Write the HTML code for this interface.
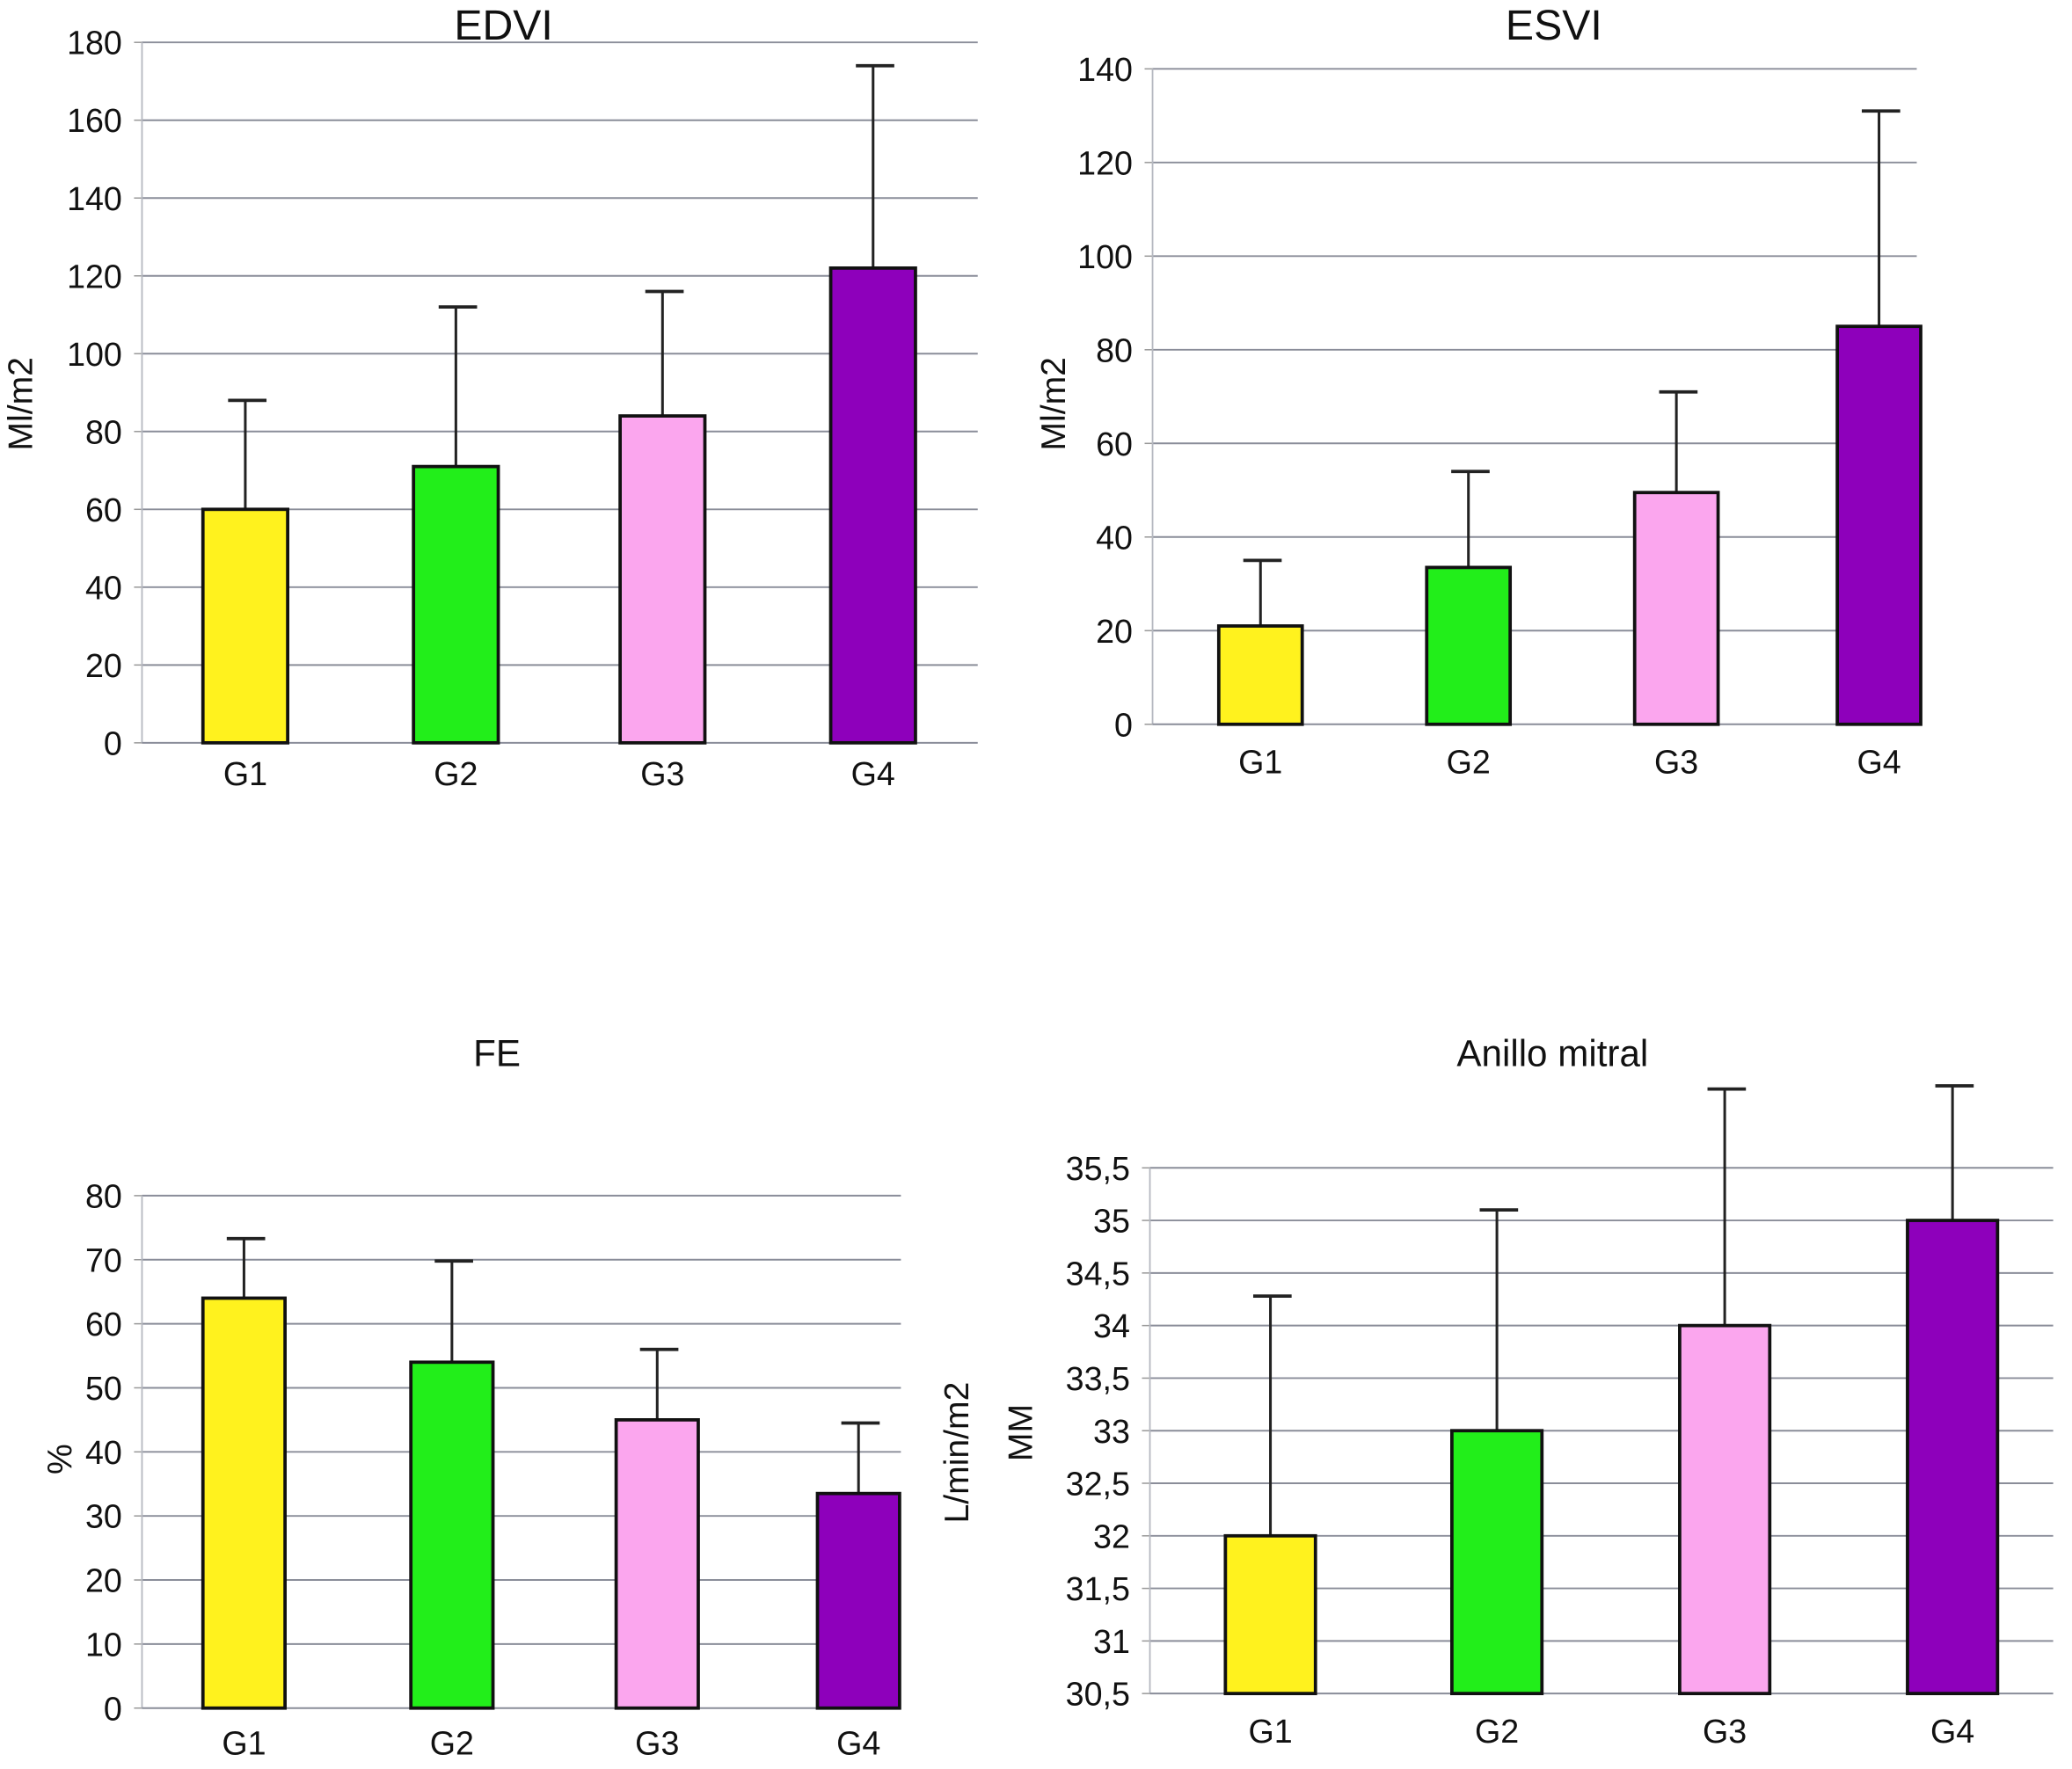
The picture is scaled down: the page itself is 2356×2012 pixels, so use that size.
<!DOCTYPE html>
<html><head><meta charset="utf-8"><style>
html,body{margin:0;padding:0;background:#fff;}
svg{display:block;font-family:"Liberation Sans",Arial,sans-serif;}
</style></head><body>
<svg id="chart" width="2356" height="2012" viewBox="0 0 1564 1336" xmlns="http://www.w3.org/2000/svg"></svg>
<script>
const groups = ["G1","G2","G3","G4"];
const colors = ["#fff21e","#22ee1a","#fba6ee","#8e00bb"];
const edviValues = [60, 71, 84, 122];
const edviErrors = [88, 112, 116, 174];
const edviTicks = [0,20,40,60,80,100,120,140,160,180];
const esviValues = [21, 33.5, 49.5, 85];
const esviErrors = [35, 54, 71, 131];
const esviTicks = [0,20,40,60,80,100,120,140];
const feValues = [64, 54, 45, 33.5];
const feErrors = [73.3, 69.8, 56, 44.5];
const feTicks = [0,10,20,30,40,50,60,70,80];
const mitralValues = [32, 33, 34, 35];
const mitralErrors = [34.28, 35.1, 36.25, 36.28];
const mitralTicks = [30.5,31,31.5,32,32.5,33,33.5,34,34.5,35,35.5];
const mitralTickLabels = ["30,5","31","31,5","32","32,5","33","33,5","34","34,5","35","35,5"];

const NS="http://www.w3.org/2000/svg";
const svg=document.getElementById('chart');
function mk(tag,attrs,parent){const e=document.createElementNS(NS,tag);for(const k in attrs)e.setAttribute(k,attrs[k]);(parent||svg).appendChild(e);return e;}

function panel(p){
  const g=mk('g',{});
  
  
  const y=v=>p.y0-(v-p.vmin)/(p.vmax-p.vmin)*(p.y0-p.ytop);
  // gridlines + tick labels
  p.ticks.forEach((t,i)=>{
    const yy=y(t);
    if(i>0){const l=mk('line',{x1:p.ax,x2:p.gx,y1:yy,y2:yy,stroke:'#8a8d99','stroke-width':1.3},g);
      
      }
    const tk=mk('line',{x1:p.ax-6,x2:p.ax,y1:yy,y2:yy,stroke:'#999','stroke-width':1},g);
    
    
    const tx=mk('text',{x:p.ax-15,y:yy+9,'text-anchor':'end','font-size':25,fill:'#111'},g);
    tx.textContent=p.tickLabels?p.tickLabels[i]:String(t);
    
    
  });
  const ax=mk('line',{x1:p.ax,x2:p.ax,y1:p.ytop,y2:p.y0,stroke:'#b5b8c0','stroke-width':1.2},g);
  
  
  const xa=mk('line',{x1:p.ax,x2:p.gx,y1:p.y0,y2:p.y0,stroke:'#8a8d99','stroke-width':1.3},g);
  
  
  // bars
  groups.forEach((gn,i)=>{
    const x0=p.bx[i], w=p.bw, c=x0+w/2;
    const top=y(p.values[i]), et=y(p.errors[i]);
    const el=mk('line',{x1:c,x2:c,y1:top,y2:et,stroke:'#222','stroke-width':2},g);
    
    
    const cap=mk('line',{x1:c-13,x2:c+16,y1:et,y2:et,stroke:'#222','stroke-width':2.5},g);
    
    
    const r=mk('rect',{x:x0,y:top,width:w,height:p.y0-top,fill:colors[i],stroke:'#111','stroke-width':2.5},g);
    
    
    const t=mk('text',{x:c,y:p.xly,'text-anchor':'middle','font-size':25,fill:'#111'},g);
    t.textContent=gn;
    
    
  });
  const ti=mk('text',{x:p.tx,y:p.ty,'text-anchor':'middle','font-size':p.tfs,fill:'#111'},g);
  ti.textContent=p.title;
  
  
  p.ylabels.forEach(lb=>{
    const t=mk('text',{x:0,y:0,'text-anchor':'middle','font-size':26,fill:'#111',transform:`translate(${lb.x},${lb.y}) rotate(-90)`},g);
    t.textContent=lb.text;
    
    
  });
}

panel({name:'edvi-chart',title:'EDVI',tx:380,ty:30,tfs:32,ax:107,gx:738,y0:561,ytop:32,vmin:0,vmax:180,
  ticks:edviTicks,values:edviValues,errors:edviErrors,bx:[153,312,468,627],bw:64,xly:593,
  ylabels:[{text:'Ml/m2',x:24,y:305}]});
panel({name:'esvi-chart',title:'ESVI',tx:1173,ty:30,tfs:32,ax:870,gx:1447,y0:547,ytop:52,vmin:0,vmax:140,
  ticks:esviTicks,values:esviValues,errors:esviErrors,bx:[920,1077,1234,1387],bw:63,xly:584,
  ylabels:[{text:'Ml/m2',x:804,y:305}]});
panel({name:'fe-chart',title:'FE',tx:375,ty:805,tfs:28,ax:107,gx:680,y0:1290,ytop:903,vmin:0,vmax:80,
  ticks:feTicks,values:feValues,errors:feErrors,bx:[153,310,465,617],bw:62,xly:1325,
  ylabels:[{text:'%',x:54,y:1102},{text:'L/min/m2',x:731,y:1097}]});
panel({name:'mitral-annulus-chart',title:'Anillo mitral',tx:1172,ty:805,tfs:28,ax:868,gx:1550,y0:1279,ytop:882,vmin:30.5,vmax:35.5,
  ticks:mitralTicks,tickLabels:mitralTickLabels,values:mitralValues,errors:mitralErrors,bx:[925,1096,1268,1440],bw:68,xly:1316,
  ylabels:[{text:'MM',x:779,y:1082}]});
</script>
</body></html>
